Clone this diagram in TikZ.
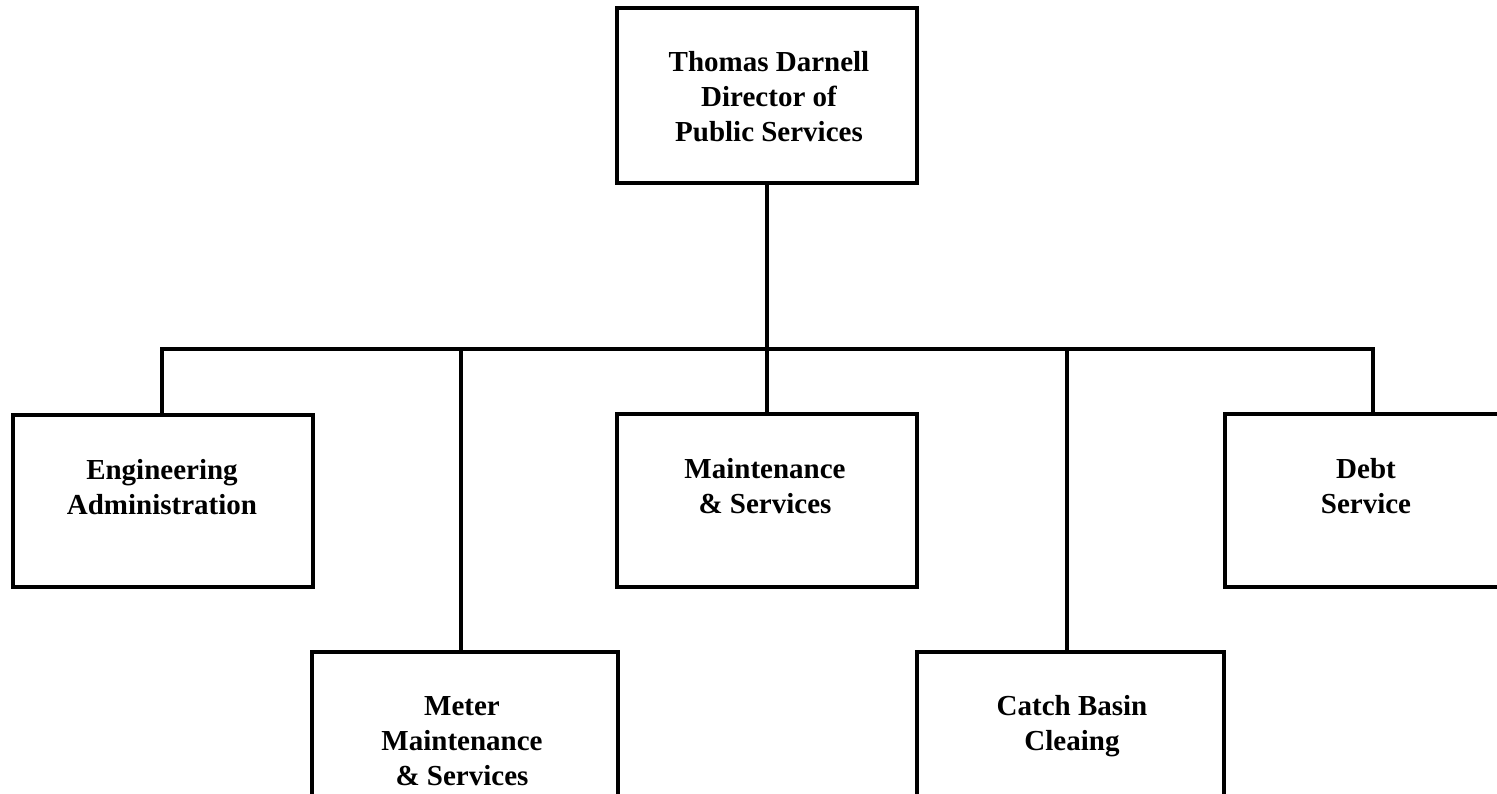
\documentclass[tikz,border=0pt]{standalone}
\usepackage{fontspec}
\setmainfont{Liberation Serif}
\begin{document}
\begin{tikzpicture}[x=1pt,y=-1pt,
  box/.style={draw, line width=3.3pt, minimum width=300pt, minimum height=173pt, inner sep=0pt, outer sep=0pt, anchor=north west},
  lbl/.style={anchor=north, align=center, inner sep=0pt, font=\fontsize{29}{35}\selectfont\bfseries},
  conn/.style={line width=3.3pt, line join=miter}]
\clip (0,0) rectangle (1497,794);
\fill[white] (0,0) rectangle (1497,794);
% boxes
\node[box, minimum height=175pt] (dir) at (617,8) {};
\node[box, minimum height=172pt] (eng) at (13,415) {};
\node[box] (maint) at (617,414) {};
\node[box] (debt) at (1225,414) {};
\node[box, minimum width=306pt] (meter) at (312,652) {};
\node[box, minimum width=307pt] (catch) at (917,652) {};
% labels
\node[lbl] (tdir) at (769,51) {Thomas Darnell\\Director of\\Public Services};
\node[lbl] (teng) at (162,459) {Engineering\\Administration};
\node[lbl] (tmaint) at (765,458) {Maintenance\\\& Services};
\node[lbl] (tdebt) at (1366,458) {Debt\\Service};
\node[lbl] (tmeter) at (462,696) {Meter\\Maintenance\\\& Services};
\node[lbl] (tcatch) at (1072,695) {Catch Basin\\Cleaing};
% connectors
\coordinate (bus) at (767,349);
\draw[conn] (dir.south) -- (maint.north);
\draw[conn] ([xshift=-1pt]eng.north) -- ([xshift=-1pt]eng.north |- bus) -- ([xshift=-2pt]debt.north |- bus) -- ([xshift=-2pt]debt.north);
\draw[conn] ([xshift=-4pt]meter.north) -- ([xshift=-4pt]meter.north |- bus);
\draw[conn] ([xshift=-3.5pt]catch.north) -- ([xshift=-3.5pt]catch.north |- bus);
\end{tikzpicture}
\end{document}
